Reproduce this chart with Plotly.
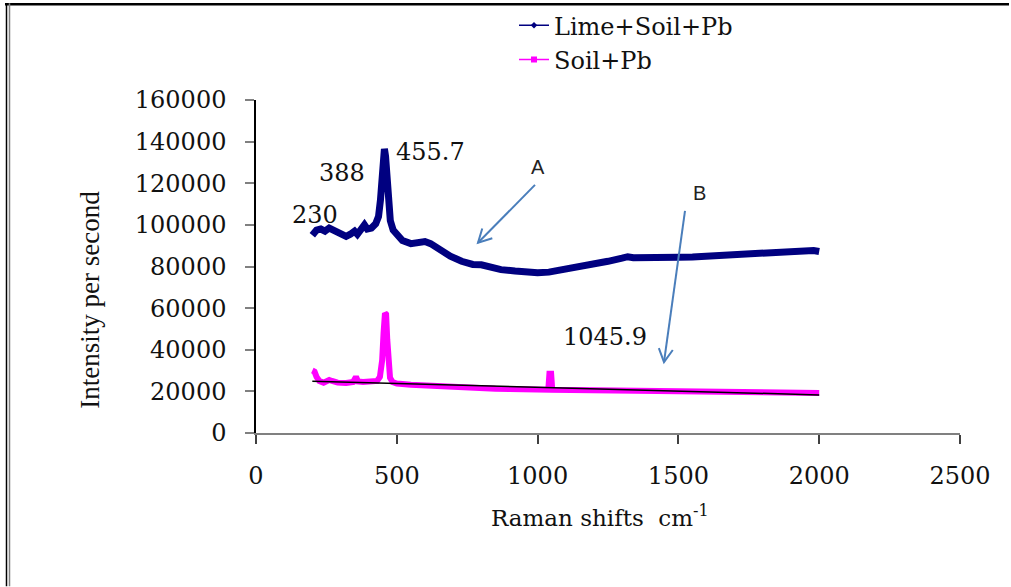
import plotly.graph_objects as go
import math

# Raman spectrum, lime-amended soil with lead
lime_x = [200, 215, 230, 245, 260, 275, 290, 305, 320, 335, 350, 360, 375, 385, 395,
          410, 425, 435, 442, 448, 453, 456, 460, 465, 470, 477, 487, 500, 520, 550,
          575, 600, 620, 650, 690, 730, 770, 800, 830, 870, 920, 970, 1000, 1040, 1080,
          1120, 1160, 1200, 1250, 1300, 1320, 1340, 1400, 1450, 1500, 1550, 1600, 1650,
          1700, 1750, 1800, 1850, 1900, 1950, 1980, 2000]
lime_y = [95000, 97500, 98000, 97000, 98500, 97500, 96000, 95500, 94500, 95500, 97000,
          95500, 98500, 100000, 98000, 98500, 100500, 104000, 112000, 124000, 133000,
          136500, 133000, 122000, 111000, 102000, 97500, 95000, 92500, 91000, 91200,
          92000, 91000, 88000, 85000, 82500, 81000, 80800, 79800, 78500, 77800, 77200,
          77000, 77300, 78200, 79000, 80000, 81000, 82500, 84000, 84700, 84200, 84000,
          84000, 84400, 84600, 85000, 85300, 85400, 85700, 86200, 86700, 87000, 87400,
          87700, 87200]

# Raman spectrum, soil with lead
soil_x = [200, 208, 215, 225, 240, 260, 270, 290, 320, 345, 355, 362, 380, 410, 430,
          440, 448, 453, 458, 462, 466, 470, 476, 485, 500, 550, 600, 650, 700, 750,
          800, 850, 900, 950, 1000, 1038, 1042, 1048, 1052, 1100, 1150, 1200, 1250,
          1300, 1350, 1400, 1450, 1500, 1550, 1600, 1650, 1700, 1750, 1800, 1850,
          1900, 1950, 2000]
soil_y = [30000, 29500, 27000, 25000, 24200, 25500, 25000, 24200, 24000, 24500, 27000,
          24800, 24500, 24700, 25000, 27000, 35000, 48000, 57500, 57000, 45000, 33000,
          26500, 24500, 23800, 23200, 22800, 22300, 22000, 21700, 21500, 21300, 21200,
          21000, 20900, 20800, 28500, 28500, 20800, 20700, 20600, 20500, 20400, 20300,
          20300, 20200, 20100, 20000, 19900, 19800, 19700, 19600, 19600, 19500, 19400,
          19400, 19300, 19200]

# linear trend of the soil spectrum
trend_x = [200, 2000]
trend_y = [24900, 18300]

x_ticks = [0, 500, 1000, 1500, 2000, 2500]
y_ticks = [0, 20000, 40000, 60000, 80000, 100000, 120000, 140000, 160000]
y_tick_text = [str(v) for v in y_ticks]

peak_text = ["230", "388", "455.7", "1045.9"]
peak_x = [210, 305, 618, 1239]
peak_y = [104800, 125000, 135100, 46300]

NAVY = "#000080"
MAGENTA = "#FF00FF"
ARROW = "#4A7EBB"
SERIF = "DejaVu Serif"

W, H = 1011, 587
ML, MR, MT, MB = 256, 51, 100, 153.5
PW = W - ML - MR
PH = H - MT - MB
XMAX, YMAX = 2500, 160000


def to_px(x, y):
    return ML + x / XMAX * PW, MT + PH - y / YMAX * PH


def to_data(px, py):
    return (px - ML) / PW * XMAX, (MT + PH - py) / PH * YMAX


def paper(px, py):
    return (px - ML) / PW, (MT + PH - py) / PH


def arrow_shapes(tail, tip, arm=15, spread=28):
    tx, ty = to_px(*tail)
    hx, hy = to_px(*tip)
    ang = math.atan2(ty - hy, tx - hx)
    shapes = [dict(type="line", xref="x", yref="y", x0=tail[0], y0=tail[1],
                   x1=tip[0], y1=tip[1], line=dict(color=ARROW, width=2))]
    pts = []
    for s in (-1, 1):
        a = ang + s * math.radians(spread)
        pts.append(to_data(hx + arm * math.cos(a), hy + arm * math.sin(a)))
    path = f"M {pts[0][0]},{pts[0][1]} L {tip[0]},{tip[1]} L {pts[1][0]},{pts[1][1]}"
    shapes.append(dict(type="path", xref="x", yref="y", path=path,
                       line=dict(color=ARROW, width=2)))
    return shapes


fig = go.Figure()

fig.add_trace(go.Scatter(x=lime_x, y=lime_y, mode="lines", showlegend=False,
                         line=dict(color=NAVY, width=7)))
fig.add_trace(go.Scatter(x=soil_x, y=soil_y, mode="lines", showlegend=False,
                         line=dict(color=MAGENTA, width=6)))
fig.add_trace(go.Scatter(x=trend_x, y=trend_y, mode="lines", showlegend=False,
                         line=dict(color="black", width=1.5)))

# legend entries
fig.add_trace(go.Scatter(x=[None], y=[None], mode="lines+markers", name="Lime+Soil+Pb",
                         line=dict(color=NAVY, width=1.5),
                         marker=dict(symbol="diamond", size=5, color=NAVY)))
fig.add_trace(go.Scatter(x=[None], y=[None], mode="lines+markers", name="Soil+Pb",
                         line=dict(color=MAGENTA, width=1.5),
                         marker=dict(symbol="square", size=6, color=MAGENTA)))

shapes = []
shapes += arrow_shapes(to_data(535, 185), to_data(478, 243))
shapes += arrow_shapes(to_data(685, 211), to_data(664, 362.5))

# page frame: heavy rule along the top, double rule down the left side
x0p, y4 = paper(5, 4)
x1p, _ = paper(W - 2, 4)
shapes.append(dict(type="line", xref="paper", yref="paper", x0=x0p, x1=x1p,
                   y0=y4, y1=y4, line=dict(color="black", width=2.5)))
for px, col in ((6.5, "black"), (9.5, "#808080")):
    xp, ya = paper(px, 3)
    _, yb = paper(px, H)
    shapes.append(dict(type="line", xref="paper", yref="paper", x0=xp, x1=xp,
                       y0=ya, y1=yb, line=dict(color=col, width=1.5)))

annotations = []
for t, x, y in zip(peak_text, peak_x, peak_y):
    annotations.append(dict(x=x, y=y, xref="x", yref="y", text=t, showarrow=False,
                            xanchor="center", yanchor="middle",
                            font=dict(family=SERIF, size=24, color="#111")))
for t, (px, py) in (("A", (538, 167)), ("B", (699, 193))):
    xd, yd = to_data(px, py)
    annotations.append(dict(x=xd, y=yd, xref="x", yref="y", text=t, showarrow=False,
                            xanchor="center", yanchor="middle",
                            font=dict(family="Liberation Sans", size=20, color="#222")))

# axis titles
xt, yt = paper(600, 517)
annotations.append(dict(x=xt, y=yt, xref="paper", yref="paper", showarrow=False,
                        xanchor="center", yanchor="middle",
                        text="Raman shifts  cm<sup>-1</sup>",
                        font=dict(family=SERIF, size=23, color="#111")))
xt, yt = paper(90, 300)
annotations.append(dict(x=xt, y=yt, xref="paper", yref="paper", showarrow=False,
                        xanchor="center", yanchor="middle",
                        text="Intensity per second", textangle=-90,
                        font=dict(family="Liberation Serif", size=27, color="#111")))

lx, ly = paper(514, 3)
fig.update_layout(
    width=W, height=H,
    margin=dict(l=ML, r=MR, t=MT, b=MB, autoexpand=False),
    paper_bgcolor="white", plot_bgcolor="white",
    shapes=shapes, annotations=annotations,
    legend=dict(x=lx, y=ly, xanchor="left", yanchor="top",
                font=dict(family=SERIF, size=24, color="#111"),
                bgcolor="rgba(0,0,0,0)", tracegroupgap=0),
    xaxis=dict(range=[0, XMAX], tickvals=x_ticks, showgrid=False, zeroline=False,
               showline=True, linecolor="#808080", linewidth=1.5,
               ticks="outside", ticklen=9, tickcolor="#404040", tickwidth=1.5,
               ticklabelstandoff=11,
               tickfont=dict(family=SERIF, size=24, color="#111")),
    yaxis=dict(range=[0, YMAX], tickvals=y_ticks, ticktext=y_tick_text,
               showgrid=False, zeroline=False,
               showline=True, linecolor="black", linewidth=1.5,
               ticks="outside", ticklen=9, tickcolor="#808080", tickwidth=1.5,
               ticklabelstandoff=14,
               tickfont=dict(family=SERIF, size=24, color="#111")),
)

fig.write_html("out.html", config={"displayModeBar": False})
